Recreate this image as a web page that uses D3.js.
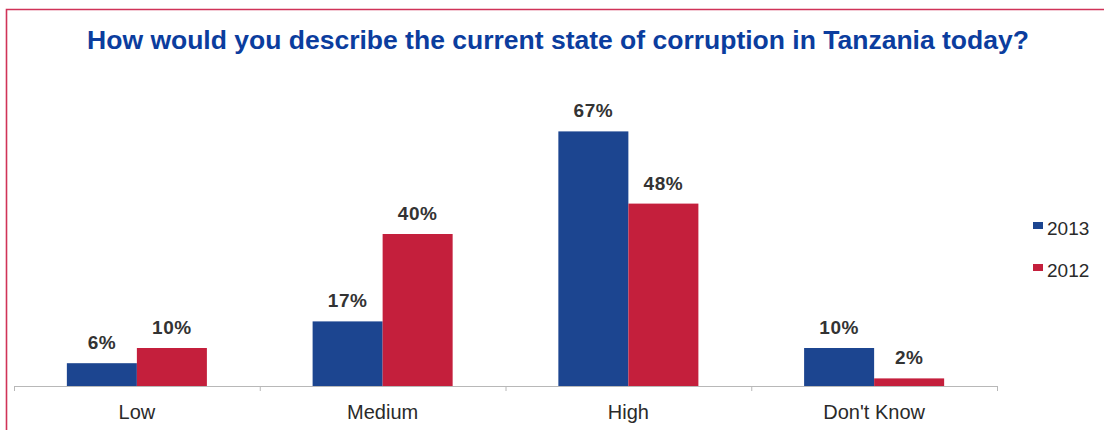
<!DOCTYPE html>
<html>
<head>
<meta charset="utf-8">
<script src="https://cdn.jsdelivr.net/npm/d3@7"></script>
<style>
  html, body { margin: 0; padding: 0; background: #ffffff; }
  svg { display: block; }
</style>
</head>
<body>
<svg id="chart" width="1104" height="430"></svg>
<script>
// Survey answers and shares (%) by year
const categories = ["Low", "Medium", "High", "Don't Know"];
const seriesNames = ["2013", "2012"];
const values2013 = [6, 17, 67, 10];
const values2012 = [10, 40, 48, 2];
const valueLabels2013 = ["6%", "17%", "67%", "10%"];
const valueLabels2012 = ["10%", "40%", "48%", "2%"];
const titleText = "How would you describe the current state of corruption in Tanzania today?";

const colors = { "2013": "#1c4590", "2012": "#c41f3c" };
const seriesValues = { "2013": values2013, "2012": values2012 };
const seriesLabels = { "2013": valueLabels2013, "2012": valueLabels2012 };

const svg = d3.select("#chart");
const font = "'Liberation Sans', Arial, Helvetica, sans-serif";

// Frame around the figure (top and left rules)
svg.append("path")
  .attr("d", "M6.5,430 L6.5,9.5 L1110,9.5")
  .attr("fill", "none")
  .attr("stroke", "#d03358")
  .attr("stroke-width", 1.6);

// Title
svg.append("text")
  .attr("x", 558)
  .attr("y", 49)
  .attr("text-anchor", "middle")
  .attr("font-family", font)
  .attr("font-weight", "bold")
  .attr("font-size", 26.5)
  .attr("fill", "#0b3d9e")
  .text(titleText);

// Scales
const x0 = d3.scaleBand().domain(categories).range([14, 997]).paddingInner(0).paddingOuter(0);
const x1 = d3.scaleBand().domain(seriesNames).range([0, x0.bandwidth()]).paddingInner(0).paddingOuter(0.755);
const y = d3.scaleLinear().domain([0, 100]).range([386, 6]);

// Axis baseline and category boundary ticks
const axisG = svg.append("g");
axisG.append("line")
  .attr("x1", x0.range()[0]).attr("x2", x0.range()[1])
  .attr("y1", y(0) + 0.5).attr("y2", y(0) + 0.5)
  .attr("stroke", "#b8b8b8").attr("stroke-width", 1);
const boundaries = categories.map(c => x0(c)).concat([x0.range()[1]]);
axisG.selectAll("line.tick")
  .data(boundaries)
  .join("line")
  .attr("class", "tick")
  .attr("x1", d => d + 0.5).attr("x2", d => d + 0.5)
  .attr("y1", y(0)).attr("y2", y(0) + 5)
  .attr("stroke", "#b8b8b8").attr("stroke-width", 1);

// Category labels
const xAxis = d3.axisBottom(x0).tickSize(0).tickPadding(0);
const labelAxis = svg.append("g")
  .attr("transform", `translate(0, ${y(0)})`)
  .call(xAxis);
labelAxis.select(".domain").remove();
labelAxis.selectAll("text")
  .attr("y", 33)
  .attr("dy", 0)
  .attr("font-family", font)
  .attr("font-size", 20)
  .attr("fill", "#2a2a2a");

// Bars and value labels
const groups = svg.append("g").selectAll("g")
  .data(categories)
  .join("g")
  .attr("transform", c => `translate(${x0(c)},0)`);

const rows = (c, i) => seriesNames.map(s => ({
  series: s,
  value: seriesValues[s][i],
  label: seriesLabels[s][i]
}));

groups.selectAll("rect")
  .data(rows)
  .join("rect")
  .attr("x", d => x1(d.series))
  .attr("width", x1.bandwidth())
  .attr("y", d => y(d.value))
  .attr("height", d => y(0) - y(d.value))
  .attr("fill", d => colors[d.series]);

groups.selectAll("text.val")
  .data(rows)
  .join("text")
  .attr("class", "val")
  .attr("x", d => x1(d.series) + x1.bandwidth() / 2)
  .attr("y", d => y(d.value) - 14)
  .attr("text-anchor", "middle")
  .attr("font-family", font)
  .attr("font-weight", "bold")
  .attr("font-size", 19)
  .attr("letter-spacing", 0.5)
  .attr("fill", "#333333")
  .text(d => d.label);

// Legend
const legend = svg.append("g").selectAll("g")
  .data(seriesNames)
  .join("g")
  .attr("transform", (d, i) => `translate(1033, ${229 + i * 42})`);
legend.append("rect")
  .attr("x", 0).attr("y", -7)
  .attr("width", 10).attr("height", 7)
  .attr("fill", d => colors[d]);
legend.append("text")
  .attr("x", 14).attr("y", 6)
  .attr("font-family", font)
  .attr("font-size", 19)
  .attr("fill", "#2a2a2a")
  .text(d => d);
</script>
</body>
</html>
